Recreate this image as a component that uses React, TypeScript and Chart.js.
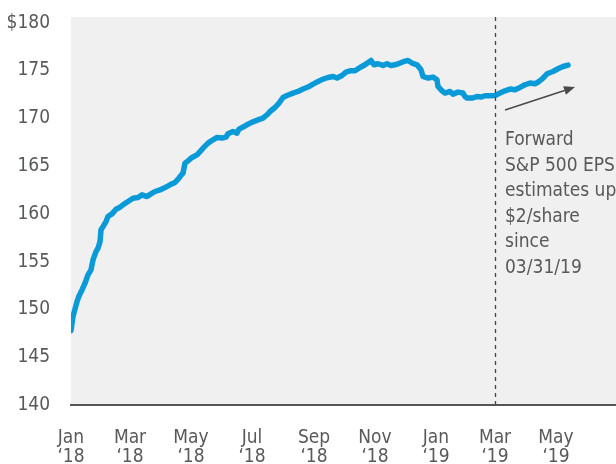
import React, { useEffect, useRef } from "react";
import { Chart, registerables } from "chart.js";

Chart.register(...registerables);

// Days since Jan 1, 2018
const days = [
  0, 2, 6, 8, 11, 14, 17, 20, 22, 25, 27, 29, 30, 32, 35, 37, 41, 45, 49, 53,
  57, 62, 67, 71, 76, 80, 84, 89, 94, 99, 104, 108, 109, 112, 114, 117, 121, 126,
  129, 133, 137, 142, 146, 151, 155, 157, 162, 166, 168, 173, 177, 182, 187, 192,
  196, 199, 204, 208, 212, 216, 222, 227, 232, 237, 242, 247, 252, 257, 262, 266,
  271, 275, 279, 284, 289, 294, 300, 303, 307, 312, 316, 320, 324, 329, 333, 337,
  341, 346, 350, 352, 357, 362, 366, 367, 371, 374, 379, 382, 387, 392, 394, 396,
  401, 406, 410, 414, 419, 424, 429, 434, 439, 444, 449, 454, 459, 464, 468, 472,
  476, 482, 487, 492, 497,
];

// Forward S&P 500 EPS estimate ($)
const eps = [
  147.78, 149.25, 150.82, 151.41, 152.04, 152.74, 153.61, 154.14, 155.18, 156.05,
  156.41, 157.1, 158.32, 158.67, 159.19, 159.72, 160.0, 160.49, 160.7, 161.02,
  161.29, 161.64, 161.71, 161.99, 161.81, 162.09, 162.34, 162.51, 162.75, 163.04,
  163.28, 163.74, 163.91, 164.26, 165.31, 165.55, 165.9, 166.18, 166.52, 166.98,
  167.4, 167.75, 167.99, 167.93, 168.03, 168.38, 168.62, 168.45, 168.87, 169.14,
  169.39, 169.63, 169.84, 170.02, 170.37, 170.71, 171.13, 171.59, 172.18, 172.39,
  172.64, 172.81, 173.06, 173.27, 173.58, 173.85, 174.1, 174.27, 174.38, 174.21,
  174.48, 174.84, 174.97, 174.97, 175.32, 175.6, 176.05, 175.6, 175.71, 175.53,
  175.71, 175.53, 175.6, 175.78, 175.95, 176.05, 175.78, 175.6, 175.08, 174.38,
  174.21, 174.31, 174.03, 173.33, 172.88, 172.64, 172.81, 172.53, 172.74, 172.64,
  172.28, 172.12, 172.12, 172.28, 172.22, 172.36, 172.36, 172.39, 172.64, 172.88,
  173.06, 172.98, 173.23, 173.51, 173.69, 173.61, 173.85, 174.21, 174.66, 174.9,
  175.18, 175.42, 175.57,
];

const tickDays = [0, 59, 120, 181, 243, 304, 365, 424, 485];
const tickMonths = ["Jan", "Mar", "May", "Jul", "Sep", "Nov", "Jan", "Mar", "May"];
const tickYears = ["‘18", "‘18", "‘18", "‘18", "‘18", "‘18", "‘19", "‘19", "‘19"];
const yTicks = [140, 145, 150, 155, 160, 165, 170, 175, 180];

const markerDay = 424;
const arrowStart = { x: 434, y: 170.87 };
const arrowEnd = { x: 504, y: 173.27 };
const noteTop = 167.2; // value at first note line baseline
const noteLines = ["Forward", "S&P 500 EPS", "estimates up", "$2/share", "since", "03/31/19"];

const FONT = '"Liberation Sans Narrow", "DejaVu Sans Condensed", Roboto, sans-serif';
const TEXT = "#58595b";
const BLUE = "#0a9ad8";

const annotations = {
  id: "annotations",
  beforeDraw(chart: any) {
    const { ctx, chartArea } = chart;
    ctx.save();
    ctx.fillStyle = "#f0f0f0";
    ctx.fillRect(chartArea.left, chartArea.top, chartArea.right - chartArea.left, chartArea.bottom - chartArea.top);
    ctx.restore();
  },
  afterDatasetsDraw(chart: any) {
    const { ctx, chartArea, scales } = chart;
    const xs = scales.x;
    const ys = scales.y;
    ctx.save();
    // dashed vertical marker
    const mx = Math.round(xs.getPixelForValue(markerDay)) + 0.5;
    ctx.strokeStyle = "#444";
    ctx.lineWidth = 1.3;
    ctx.setLineDash([4, 4]);
    ctx.beginPath();
    ctx.moveTo(mx, chartArea.top);
    ctx.lineTo(mx, chartArea.bottom);
    ctx.stroke();
    ctx.setLineDash([]);

    // arrow
    const x1 = xs.getPixelForValue(arrowStart.x);
    const y1 = ys.getPixelForValue(arrowStart.y);
    const x2 = xs.getPixelForValue(arrowEnd.x);
    const y2 = ys.getPixelForValue(arrowEnd.y);
    const ang = Math.atan2(y2 - y1, x2 - x1);
    const hl = 11;
    const hw = 4.5;
    ctx.strokeStyle = "#4a4a4a";
    ctx.fillStyle = "#4a4a4a";
    ctx.lineWidth = 1.6;
    ctx.beginPath();
    ctx.moveTo(x1, y1);
    ctx.lineTo(x2 - hl * Math.cos(ang), y2 - hl * Math.sin(ang));
    ctx.stroke();
    ctx.beginPath();
    ctx.moveTo(x2, y2);
    ctx.lineTo(x2 - hl * Math.cos(ang) + hw * Math.sin(ang), y2 - hl * Math.sin(ang) - hw * Math.cos(ang));
    ctx.lineTo(x2 - hl * Math.cos(ang) - hw * Math.sin(ang), y2 - hl * Math.sin(ang) + hw * Math.cos(ang));
    ctx.closePath();
    ctx.fill();

    // note text
    ctx.fillStyle = TEXT;
    ctx.font = `19px ${FONT}`;
    ctx.textAlign = "left";
    ctx.textBaseline = "alphabetic";
    const tx = xs.getPixelForValue(markerDay) + 10;
    const ty = ys.getPixelForValue(noteTop);
    noteLines.forEach((line, i) => {
      ctx.fillText(line, tx, ty + i * 25.6);
    });
    ctx.restore();
  },
};

export default function App() {
  const ref = useRef<HTMLCanvasElement | null>(null);
  useEffect(() => {
    if (!ref.current) return;
    const chart = new Chart(ref.current, {
      type: "line",
      data: {
        datasets: [
          {
            data: days.map((d, i) => ({ x: d, y: eps[i] })),
            borderColor: BLUE,
            borderWidth: 5.5,
            pointRadius: 0,
            tension: 0,
            borderJoinStyle: "round",
            borderCapStyle: "round",
          },
        ],
      },
      options: {
        animation: false,
        responsive: true,
        maintainAspectRatio: false,
        layout: { padding: { top: 17, left: 0, right: 0, bottom: 0 } },
        plugins: { legend: { display: false }, tooltip: { enabled: false } },
        scales: {
          x: {
            type: "linear",
            min: 0,
            max: 545,
            grid: { display: false, drawTicks: false },
            border: { display: true, color: "#555", width: 2 },
            afterBuildTicks: (scale: any) => {
              scale.ticks = tickDays.map((v) => ({ value: v }));
            },
            afterFit: (scale: any) => {
              scale.height = 59;
              scale.paddingLeft = 0;
              scale.paddingRight = 0;
            },
            ticks: {
              autoSkip: false,
              maxRotation: 0,
              padding: 24,
              color: TEXT,
              font: { family: FONT, size: 19, lineHeight: 1.0 },
              callback: (_v: any, i: number) => [tickMonths[i], tickYears[i]],
            },
          },
          y: {
            type: "linear",
            min: 140,
            max: 180.6,
            grid: { display: false, drawTicks: false },
            border: { display: false },
            afterBuildTicks: (scale: any) => {
              scale.ticks = yTicks.map((v) => ({ value: v }));
            },
            afterFit: (scale: any) => {
              scale.width = 71;
              scale.paddingTop = 0;
              scale.paddingBottom = 0;
            },
            ticks: {
              padding: 21,
              color: TEXT,
              font: { family: FONT, size: 19 },
              callback: (v: any) => (v === 180 ? "$180" : String(v)),
            },
          },
        },
      },
      plugins: [annotations],
    });
    return () => chart.destroy();
  }, []);
  return (
    <div style={{ position: "fixed", left: 0, top: 0, width: 616, height: 464 }}>
      <canvas ref={ref} />
    </div>
  );
}
